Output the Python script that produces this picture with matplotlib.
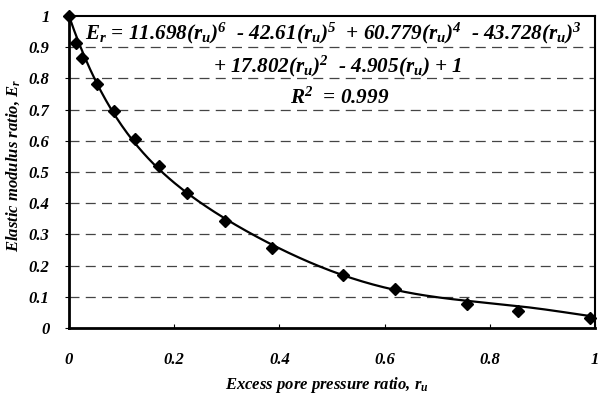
"""
   Elastic modulus ratio against excess pore pressure ratio,
   measured points plus the sixth order polynomial trend line.
"""
import numpy as np
import matplotlib
matplotlib.use("Agg")
import matplotlib.pyplot as plt

ru_points = [0.0, 0.013, 0.025, 0.053, 0.086, 0.125, 0.171, 0.225,
             0.296, 0.386, 0.520, 0.619, 0.756, 0.853, 0.990]
er_points = [1.0, 0.913, 0.865, 0.782, 0.695, 0.606, 0.519, 0.433,
             0.343, 0.256, 0.170, 0.125, 0.077, 0.054, 0.032]

# trend line coefficients, highest power first (from the equation on the chart)
trend_coeffs = [11.698, -42.61, 60.779, -43.728, 17.802, -4.905, 1.0]

x_ticks = [0, 0.2, 0.4, 0.6, 0.8, 1]
x_tick_labels = ["0", "0.2", "0.4", "0.6", "0.8", "1"]
y_ticks = [0, 0.1, 0.2, 0.3, 0.4, 0.5, 0.6, 0.7, 0.8, 0.9, 1]
y_tick_labels = ["0", "0.1", "0.2", "0.3", "0.4", "0.5", "0.6", "0.7", "0.8", "0.9", "1"]

plt.rcParams["font.family"] = "Liberation Serif"
plt.rcParams["font.weight"] = "bold"
plt.rcParams["font.style"] = "italic"
plt.rcParams["axes.labelweight"] = "bold"
plt.rcParams["mathtext.fontset"] = "custom"
plt.rcParams["mathtext.rm"] = "Liberation Serif:bold:italic"
plt.rcParams["mathtext.it"] = "Liberation Serif:bold:italic"
plt.rcParams["mathtext.bf"] = "Liberation Serif:bold:italic"
plt.rcParams["mathtext.default"] = "it"

fig = plt.figure(figsize=(5.98, 3.96), dpi=100)
ax = fig.add_axes([0.1154, 0.1717, 0.8796, 0.7879])

# dashed horizontal grid
for y in y_ticks[1:-1]:
    ax.axhline(y, color="#444444", lw=0.9, ls=(0, (8, 5)), zorder=1)

# trend line from the equation
xs = np.linspace(0, 1, 200)
ax.plot(xs, np.polyval(trend_coeffs, xs), color="black", lw=1.6, zorder=2)

# measured points
ax.plot(ru_points, er_points, ls="none", marker="D", ms=6.5,
        color="black", zorder=3, clip_on=False)

ax.set_xlim(0, 1)
ax.set_ylim(0, 1)
ax.set_xticks(x_ticks)
ax.set_xticklabels(x_tick_labels)
ax.set_yticks(y_ticks)
ax.set_yticklabels(y_tick_labels)
ax.tick_params(axis="x", direction="in", length=3, pad=17, labelsize=12)
ax.tick_params(axis="y", direction="out", length=3, pad=11, labelsize=12)

for side in ["left", "bottom"]:
    ax.spines[side].set_linewidth(2.0)
for side in ["top", "right"]:
    ax.spines[side].set_linewidth(1.5)

ax.set_xlabel(r"Excess pore pressure ratio, r$_u$", fontsize=12)
ax.set_ylabel(r"Elastic modulus ratio, E$_r$", fontsize=12)
ax.xaxis.set_label_coords(0.49, -0.15)
ax.yaxis.set_label_coords(-0.09, 0.52)

#   equation text
eq1 = (r"E$_r$ = 11.698(r$_u$)$^6$  - 42.61(r$_u$)$^5$  + 60.779(r$_u$)$^4$"
       r"  - 43.728(r$_u$)$^3$")
eq2 = r"+ 17.802(r$_u$)$^2$  - 4.905(r$_u$) + 1"
eq3 = r"R$^2$  = 0.999"
ax.text(0.03, 0.945, eq1, fontsize=15.2, va="center", ha="left", transform=ax.transAxes)
ax.text(0.274, 0.838, eq2, fontsize=15.2, va="center", ha="left", transform=ax.transAxes)
ax.text(0.42, 0.735, eq3, fontsize=15.2, va="center", ha="left", transform=ax.transAxes)

fig.savefig("out.png", dpi=100)
